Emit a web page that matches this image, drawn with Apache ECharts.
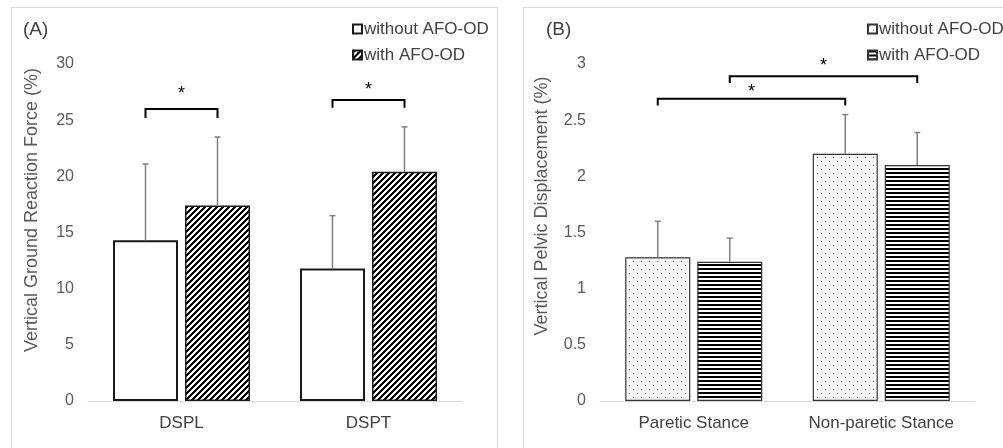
<!DOCTYPE html>
<html>
<head>
<meta charset="utf-8">
<script src="https://cdn.jsdelivr.net/npm/echarts@6/dist/echarts.min.js"></script>
<style>
body{margin:0;width:1003px;height:448px;overflow:hidden;background:#fff;position:relative}
.panel{position:absolute;top:7px;height:470px;border:1px solid #d9d9d9;box-sizing:border-box}
#a{left:11px;width:487px}
#b{left:523px;width:500px}
</style>
</head>
<body>
<div id="a" class="panel"></div>
<div id="b" class="panel"></div>
<script>
// panel A
var categoriesA = ['DSPL', 'DSPT'];
var withoutA = [14.3, 11.8];
var withoutA_sd = [6.8, 4.7];
var withA = [17.4, 20.4];
var withA_sd = [6.1, 4.0];
// bracket: [cat1, bar1, cat2, bar2, top, legEnd, star]
var bracketsA = [[0, 0, 0, 1, 26.0, 25.2, 27.3], [1, 0, 1, 1, 26.8, 26.1, 27.7]];
var ticksA = {min: 0, max: 30, interval: 5};

// panel B
var categoriesB = ['Paretic Stance', 'Non-paretic Stance'];
var withoutB = [1.28, 2.20];
var withoutB_sd = [0.32, 0.35];
var withB = [1.24, 2.10];
var withB_sd = [0.21, 0.29];
var bracketsB = [[0, 0, 1, 0, 2.69, 2.63, 2.75], [0, 1, 1, 1, 2.89, 2.83, 2.98]];
var ticksB = {min: 0, max: 3, interval: 0.5};

var FONT = 'Liberation Sans, Arial, sans-serif';
var BAR_W = 65, BAR_GAP = 7;
var SHIFT = (BAR_W + BAR_GAP) / 2;

function pattern(w, h, draw) {
    var c = document.createElement('canvas');
    c.width = w; c.height = h;
    var g = c.getContext('2d');
    g.fillStyle = '#fff';
    g.fillRect(0, 0, w, h);
    draw(g);
    return {image: c, repeat: 'repeat'};
}
// "////" hatch, pixel exact so it stays crisp
var hatch = pattern(6, 6, function (g) {
    g.fillStyle = '#000';
    for (var y = 0; y < 6; y++) {
        for (var x = 0; x < 6; x++) {
            if ((x + y) % 6 < 3) g.fillRect(x, y, 1, 1);
        }
    }
});
var dots = pattern(8, 8, function (g) {
    g.fillStyle = '#666';
    g.fillRect(1, 1, 1, 1);
    g.fillRect(5, 5, 1, 1);
});
var stripes = pattern(4, 4, function (g) {
    g.fillStyle = '#000';
    g.fillRect(0, 0, 4, 2);
});

function errorSeries(means, sds, shift) {
    return {
        type: 'custom',
        z: 3,
        data: means.map(function (m, i) { return [i, m, m + sds[i]]; }),
        renderItem: function (params, api) {
            var base = api.coord([api.value(0), api.value(1)]);
            var top = api.coord([api.value(0), api.value(2)]);
            var x = base[0] + shift;
            var st = {stroke: '#808080', lineWidth: 1.5};
            return {type: 'group', children: [
                {type: 'line', shape: {x1: x, y1: base[1], x2: x, y2: top[1]}, style: st},
                {type: 'line', shape: {x1: x - 3, y1: top[1], x2: x + 3, y2: top[1]}, style: st}
            ]};
        }
    };
}

function bracketSeries(rows) {
    return {
        type: 'custom',
        z: 4,
        encode: {x: 0, y: 4},
        data: rows,
        renderItem: function (params, api) {
            var p1 = api.coord([api.value(0), api.value(4)]);
            var p2 = api.coord([api.value(2), api.value(4)]);
            var leg = api.coord([api.value(0), api.value(5)])[1];
            var star = api.coord([api.value(0), api.value(6)])[1];
            var x1 = p1[0] + (api.value(1) ? SHIFT : -SHIFT);
            var x2 = p2[0] + (api.value(3) ? SHIFT : -SHIFT);
            return {type: 'group', children: [
                {type: 'polyline', shape: {points: [[x1, leg], [x1, p1[1]], [x2, p1[1]], [x2, leg]]},
                    style: {stroke: '#000', lineWidth: 2, fill: null}},
                {type: 'text', x: (x1 + x2) / 2, y: star,
                    style: {text: '*', font: '18px ' + FONT, fill: '#000', align: 'center', verticalAlign: 'middle'}}
            ]};
        }
    };
}

function build(el, opt) {
    var chart = echarts.init(document.getElementById(el));
    chart.setOption({
        animation: false,
        textStyle: {fontFamily: FONT},
        grid: {left: 76, top: 56, width: opt.gridW, height: 337},
        legend: {
            orient: 'vertical', left: opt.legendLeft, top: 11, padding: 0,
            itemWidth: 9, itemHeight: 9, itemGap: 6, icon: 'rect',
            data: ['without AFO-OD', 'with AFO-OD'],
            textStyle: {fontSize: 17, color: '#404040', lineHeight: 20, padding: [0, 0, 0, -3]}
        },
        graphic: [
            {type: 'text', x: opt.labelX, y: 22,
                style: {text: opt.label, fontSize: 19, fontFamily: FONT, fill: '#404040', verticalAlign: 'middle'}},
            {type: 'text', x: opt.titleX, y: opt.titleY, rotation: Math.PI / 2,
                style: {text: opt.title, fontSize: 18, fontFamily: FONT, fill: '#595959', align: 'center', verticalAlign: 'middle'}}
        ],
        xAxis: {
            type: 'category', data: opt.categories,
            axisLine: {lineStyle: {color: '#d9d9d9', width: 1}},
            axisTick: {show: false},
            axisLabel: {fontSize: 17, color: '#404040', margin: 14, interval: 0}
        },
        yAxis: {
            type: 'value', min: opt.ticks.min, max: opt.ticks.max, interval: opt.ticks.interval,
            splitLine: {show: false}, axisLine: {show: false}, axisTick: {show: false},
            axisLabel: {fontSize: 16, color: '#595959', margin: 14}
        },
        series: [
            {name: 'without AFO-OD', type: 'bar', barWidth: BAR_W, barGap: (BAR_GAP / BAR_W * 100) + '%',
                data: opt.without, itemStyle: opt.styleWithout},
            {name: 'with AFO-OD', type: 'bar', barWidth: BAR_W,
                data: opt.with, itemStyle: opt.styleWith},
            errorSeries(opt.without, opt.withoutSd, -SHIFT),
            errorSeries(opt.with, opt.withSd, SHIFT),
            bracketSeries(opt.brackets)
        ]
    });
}

build('a', {
    gridW: 374, legendLeft: 340, labelX: 11, label: '(A)',
    titleX: 20, titleY: 202, title: 'Vertical Ground Reaction Force (%)',
    categories: categoriesA, ticks: ticksA,
    without: withoutA, withoutSd: withoutA_sd, with: withA, withSd: withA_sd,
    brackets: bracketsA,
    styleWithout: {color: '#fff', borderColor: '#1a1a1a', borderWidth: 2},
    styleWith: {color: hatch, borderColor: '#1a1a1a', borderWidth: 1.5}
});
build('b', {
    gridW: 375, legendLeft: 343, labelX: 22, label: '(B)',
    titleX: 18, titleY: 198, title: 'Vertical Pelvic Displacement (%)',
    categories: categoriesB, ticks: ticksB,
    without: withoutB, withoutSd: withoutB_sd, with: withB, withSd: withB_sd,
    brackets: bracketsB,
    styleWithout: {color: dots, borderColor: '#333', borderWidth: 1.2},
    styleWith: {color: stripes, borderColor: '#333', borderWidth: 1.2}
});
</script>
</body>
</html>
